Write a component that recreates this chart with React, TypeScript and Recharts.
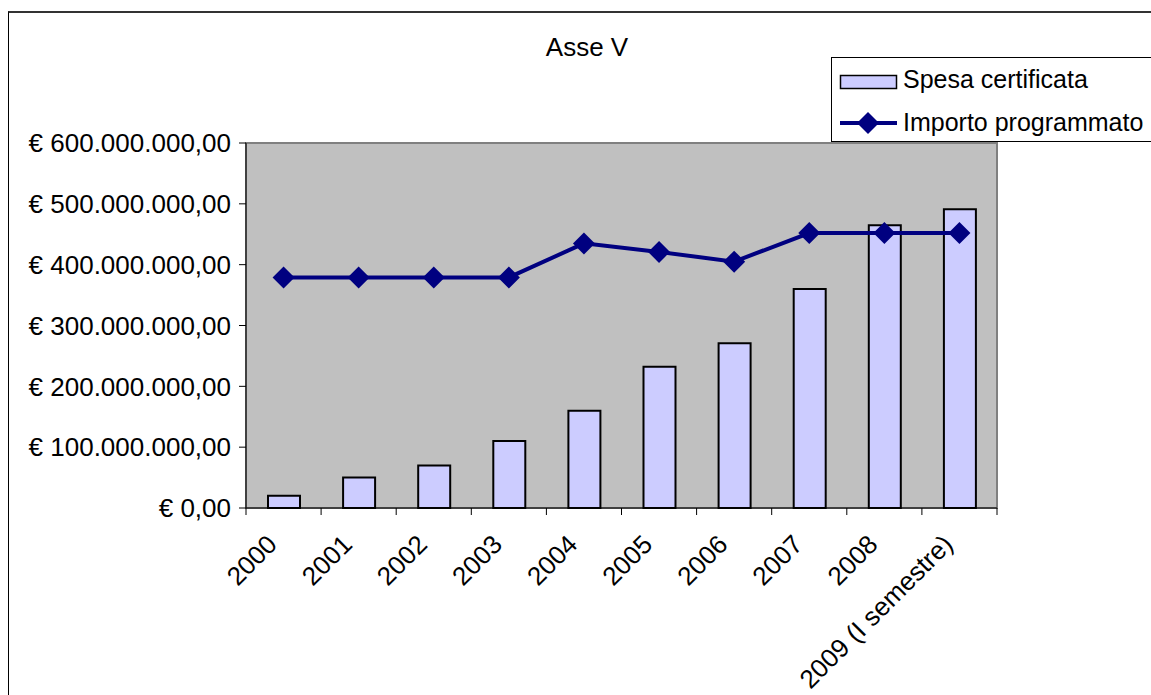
import React from 'react';
import { ComposedChart, Bar, Line, XAxis, YAxis, ReferenceArea } from 'recharts';

const categories = ['2000', '2001', '2002', '2003', '2004', '2005', '2006', '2007', '2008', '2009 (I semestre)'];
const spesaCertificata = [20e6, 50e6, 70e6, 110e6, 160e6, 232e6, 271e6, 360e6, 465e6, 491e6];
const importoProgrammato = [379e6, 379e6, 379e6, 379e6, 435e6, 421e6, 405e6, 452e6, 452e6, 452e6];
const yTicks = [0, 100e6, 200e6, 300e6, 400e6, 500e6, 600e6];
const seriesNames = ['Spesa certificata', 'Importo programmato'];
const title = 'Asse V';

const data = categories.map((c, i) => ({ name: c, spesa: spesaCertificata[i], importo: importoProgrammato[i] }));

const FONT = '"Liberation Sans", Arial, sans-serif';
const FS = 26;
const LFS = 25;
const NAVY = '#000080';
const BAR = '#CCCCFF';

const fmt = (v: number) => {
  const s = Math.round(v).toString().replace(/\B(?=(\d{3})+(?!\d))/g, '.');
  return '€ ' + s + ',00';
};

const XTick = (props: any) => {
  const { x, y, payload, index, width, visibleTicksCount } = props;
  const off = payload && payload.offset != null ? payload.offset : width / (visibleTicksCount || 10) / 2;
  const last = index === categories.length - 1;
  return (
    <g>
      <line x1={x - off} y1={y} x2={x - off} y2={y + 7} stroke="#000" strokeWidth={1} />
      {last && <line x1={x + off} y1={y} x2={x + off} y2={y + 7} stroke="#000" strokeWidth={1} />}
      <text
        transform={`translate(${x - 5},${y + 38}) rotate(-45)`}
        textAnchor="end"
        fontSize={FS}
        fontFamily={FONT}
        fill="#000"
      >
        {payload.value}
      </text>
    </g>
  );
};

const Diamond = (p: any) => {
  const { cx, cy } = p;
  if (cx == null || cy == null) return <g />;
  const r = 11;
  return <polygon points={`${cx},${cy - r} ${cx + r},${cy} ${cx},${cy + r} ${cx - r},${cy}`} fill={NAVY} />;
};

export default function App() {
  return (
    <div style={{ position: 'fixed', left: 0, top: 0, width: 1151, height: 695, overflow: 'hidden', background: '#fff' }}>
      <div
        style={{
          position: 'absolute',
          left: 8,
          top: 11,
          width: 1300,
          height: 900,
          borderTop: '2px solid #333',
          borderLeft: '1px solid #000',
          boxSizing: 'border-box',
        }}
      />
      <div style={{ position: 'absolute', left: 0, top: 0 }}>
        <ComposedChart width={1151} height={695} data={data} margin={{ top: 143, right: 154, bottom: 0, left: 0 }}>
          <ReferenceArea y1={0} y2={600e6} fill="#C0C0C0" fillOpacity={1} stroke="#808080" strokeWidth={2} ifOverflow="visible" />
          <XAxis
            dataKey="name"
            interval={0}
            height={187}
            tickLine={false}
            tickSize={0}
            tickMargin={0}
            axisLine={{ stroke: '#000', strokeWidth: 1 }}
            tick={<XTick />}
          />
          <YAxis
            width={246}
            domain={[0, 600e6]}
            ticks={yTicks}
            interval={0}
            tickFormatter={fmt}
            tickSize={7}
            tickMargin={8}
            axisLine={{ stroke: '#000', strokeWidth: 1 }}
            tickLine={{ stroke: '#000', strokeWidth: 1 }}
            tick={{ fill: '#000', fontSize: FS, fontFamily: FONT }}
          />
          <Bar dataKey="spesa" name={seriesNames[0]} fill={BAR} stroke="#000" strokeWidth={2} barSize={32} isAnimationActive={false} />
          <Line
            dataKey="importo"
            name={seriesNames[1]}
            stroke={NAVY}
            strokeWidth={4}
            dot={<Diamond />}
            activeDot={false}
            isAnimationActive={false}
          />
        </ComposedChart>
      </div>
      <svg width={1151} height={695} style={{ position: 'absolute', left: 0, top: 0, pointerEvents: 'none' }}>
        <text x={587} y={56} textAnchor="middle" fontSize={FS} fontFamily={FONT} fill="#000">
          {title}
        </text>
        <rect x={831.5} y={57.5} width={340} height={84} fill="#fff" stroke="#000" strokeWidth={1} />
        <rect x={840.5} y={75.5} width={56} height={13} fill={BAR} stroke="#000" strokeWidth={1.5} />
        <text x={903} y={88} fontSize={LFS} fontFamily={FONT} fill="#000">
          {seriesNames[0]}
        </text>
        <line x1={840} y1={123} x2={897} y2={123} stroke={NAVY} strokeWidth={4} />
        <polygon points="868,112 879,123 868,134 857,123" fill={NAVY} />
        <text x={903} y={131} fontSize={LFS} fontFamily={FONT} fill="#000">
          {seriesNames[1]}
        </text>
      </svg>
    </div>
  );
}
